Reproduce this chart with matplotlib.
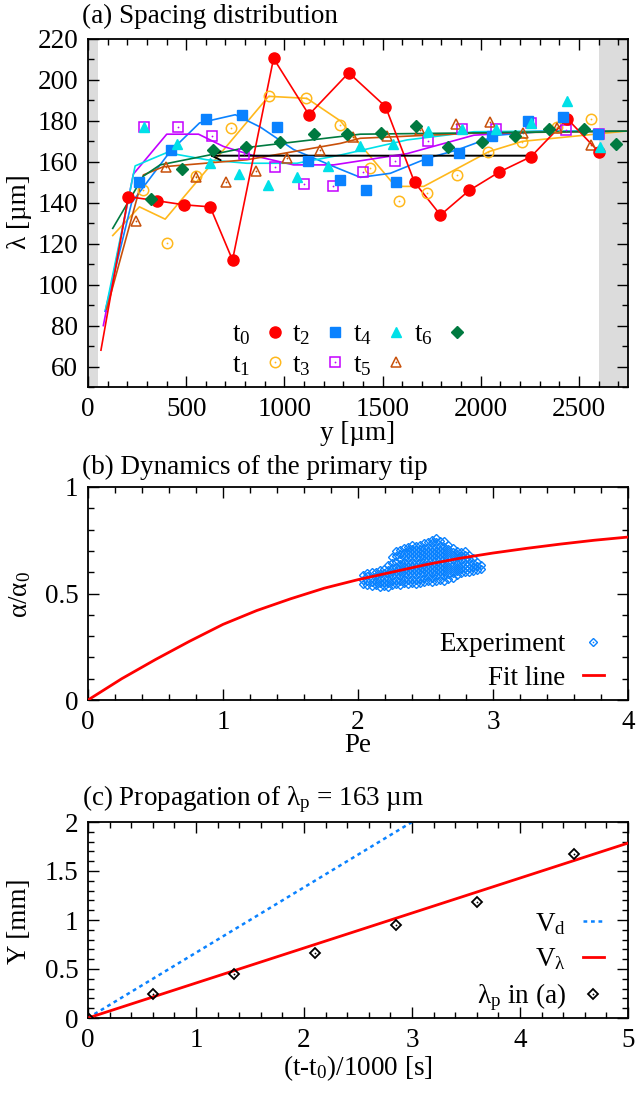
import matplotlib
matplotlib.use('Agg')
import matplotlib.pyplot as plt
from matplotlib.ticker import MultipleLocator
from matplotlib.lines import Line2D
from matplotlib.legend_handler import HandlerTuple

plt.rcParams['font.family'] = ['Liberation Serif', 'DejaVu Serif']
plt.rcParams['mathtext.fontset'] = 'custom'
plt.rcParams['mathtext.rm'] = 'Liberation Serif'
plt.rcParams['mathtext.it'] = 'Liberation Serif:italic'
plt.rcParams['mathtext.default'] = 'regular'
plt.rcParams['font.size'] = 19.5

# ---------------- data: panel (a) ----------------
t0_x = [205, 349, 490, 622, 736, 945, 1125, 1328, 1515, 1663, 1795, 1941, 2094, 2256, 2441, 2600]
t0_y = [143, 141, 139, 138, 112, 210.5, 183, 203.5, 187, 150, 134, 146, 155, 162.5, 181, 165]
t0_line_x = [66] + t0_x
t0_line_y = [68] + t0_y

t1_x = [282, 401, 551, 729, 920, 1110, 1285, 1438, 1583, 1724, 1877, 2038, 2208, 2387, 2564]
t1_y = [146, 120.5, 153, 176.7, 192, 191, 178, 157, 141, 145, 153.6, 164.6, 169.5, 177, 181]
t1_line_x = [126, 262, 393, 920, 1115, 1285, 1566, 1710, 2042, 2212, 2740]
t1_line_y = [124, 138, 132, 192, 191, 180, 148, 148, 165, 170, 175]

t2_x = [262, 422, 602, 784, 962, 1120, 1285, 1416, 1566, 1724, 1889, 2059, 2241, 2420, 2598]
t2_y = [150.3, 165.8, 181, 183, 177, 160.4, 151, 146, 150.3, 161, 164.5, 172.6, 180, 182, 173.4]
t2_line_x = [87, 222, 418, 568, 750, 877, 1047, 1251, 1387, 1540, 1727, 1880, 2084, 2305, 2740]
t2_line_y = [87, 140, 165, 179, 183, 177, 166, 157.7, 152.4, 154.4, 161.7, 165.8, 173, 174.7, 175]

t3_x = [287, 460, 634, 796, 954, 1102, 1248, 1401, 1561, 1731, 1906, 2076, 2254, 2433, 2603]
t3_y = [177, 177, 172.8, 163.7, 157.6, 149, 148, 155, 160.4, 170.3, 176, 176, 179, 175.6, 173.4]
t3_line_x = [78, 231, 401, 563, 690, 843, 1047, 1251, 1625, 1965, 2305, 2740]
t3_line_y = [80, 154, 173.5, 173.5, 167.5, 163, 158.5, 158.5, 164, 173, 175, 175]

t4_x = [287, 452, 619, 767, 916, 1064, 1220, 1387, 1554, 1731, 1906, 2076, 2254, 2441, 2608]
t4_y = [177, 168.7, 159.3, 154, 148.7, 152.8, 158, 167.7, 168.7, 175, 176, 176, 179, 189.7, 167]
t4_line_x = [90, 240, 401, 605, 809, 1064, 1285, 1625, 1965, 2305, 2740]
t4_line_y = [88, 158, 164.5, 161, 159.3, 159.3, 163.3, 170.7, 174.7, 175, 175]

t5_x = [245, 398, 551, 702, 855, 1013, 1179, 1350, 1523, 1693, 1872, 2047, 2217, 2390, 2560]
t5_y = [131, 157.6, 152.8, 150.3, 155.7, 162, 166, 172.3, 172.8, 175.5, 178.3, 179.6, 174.2, 176.7, 168.2]
t5_line_x = [95, 282, 384, 809, 1285, 1387, 1965, 2740]
t5_line_y = [88, 153.6, 157.6, 161, 169, 171.5, 174, 175]

t6_x = [321, 478, 639, 804, 976, 1149, 1319, 1492, 1668, 1833, 2004, 2173, 2347, 2526, 2691]
t6_y = [141.7, 156.3, 165.8, 167, 169.5, 173.6, 173.6, 174, 177.7, 167.4, 169.5, 172.6, 176, 176, 168.6]
t6_line_x = [126, 282, 367, 809, 1387, 2740]
t6_line_y = [127.5, 153, 158.5, 167, 173.5, 175]

arrow_from = (2256, 163)
arrow_to = (605, 163)
gray_left = (0, 50)
gray_right = (2600, 2750)

# ---------------- data: panel (b) ----------------
exp_cols_pe = [2.04, 2.07, 2.10, 2.13, 2.16, 2.19, 2.22, 2.25, 2.28, 2.31, 2.34, 2.37, 2.40, 2.43,
               2.46, 2.49, 2.52, 2.55, 2.58, 2.61, 2.64, 2.67, 2.70, 2.73, 2.76, 2.79, 2.82, 2.85,
               2.88, 2.91]
exp_cols_alpha = [
    [0.545, 0.565, 0.585],
    [0.54, 0.56, 0.58, 0.595],
    [0.535, 0.555, 0.575, 0.60],
    [0.54, 0.56, 0.58, 0.60],
    [0.53, 0.55, 0.57, 0.59, 0.61],
    [0.535, 0.555, 0.575, 0.595, 0.615],
    [0.53, 0.55, 0.57, 0.59, 0.61, 0.635],
    [0.54, 0.56, 0.58, 0.60, 0.62, 0.645, 0.67],
    [0.545, 0.565, 0.585, 0.605, 0.625, 0.65, 0.675, 0.70],
    [0.54, 0.56, 0.58, 0.60, 0.62, 0.64, 0.66, 0.685, 0.705],
    [0.55, 0.57, 0.59, 0.61, 0.63, 0.65, 0.67, 0.69, 0.715],
    [0.545, 0.565, 0.585, 0.605, 0.625, 0.645, 0.665, 0.685, 0.705, 0.72],
    [0.55, 0.57, 0.59, 0.61, 0.63, 0.65, 0.67, 0.69, 0.71, 0.73],
    [0.545, 0.565, 0.585, 0.605, 0.625, 0.645, 0.665, 0.685, 0.705, 0.725],
    [0.55, 0.57, 0.59, 0.61, 0.63, 0.65, 0.67, 0.69, 0.71, 0.73],
    [0.555, 0.575, 0.595, 0.615, 0.635, 0.655, 0.675, 0.695, 0.715, 0.735],
    [0.56, 0.58, 0.60, 0.62, 0.64, 0.66, 0.68, 0.70, 0.72, 0.74],
    [0.555, 0.575, 0.595, 0.615, 0.635, 0.655, 0.675, 0.695, 0.715, 0.735, 0.75],
    [0.56, 0.58, 0.60, 0.62, 0.64, 0.66, 0.68, 0.70, 0.72, 0.74, 0.76],
    [0.565, 0.585, 0.605, 0.625, 0.645, 0.665, 0.685, 0.705, 0.725, 0.745],
    [0.56, 0.58, 0.60, 0.62, 0.64, 0.66, 0.68, 0.70, 0.72, 0.745],
    [0.57, 0.59, 0.61, 0.63, 0.65, 0.67, 0.69, 0.71, 0.73],
    [0.575, 0.595, 0.615, 0.635, 0.655, 0.675, 0.695, 0.715],
    [0.585, 0.605, 0.625, 0.645, 0.665, 0.685, 0.70],
    [0.595, 0.615, 0.635, 0.655, 0.675, 0.695],
    [0.60, 0.62, 0.64, 0.66, 0.68, 0.70],
    [0.60, 0.62, 0.64, 0.66, 0.68],
    [0.605, 0.625, 0.645, 0.665],
    [0.61, 0.63, 0.65],
    [0.615, 0.635],
]
fit_pe = [0, 0.25, 0.5, 0.75, 1.0, 1.25, 1.5, 1.75, 2.0, 2.25, 2.5, 2.75, 3.0, 3.25, 3.5, 3.75, 4.0]
fit_alpha = [0, 0.10, 0.19, 0.275, 0.355, 0.42, 0.475, 0.525, 0.565, 0.60, 0.635, 0.665,
             0.69, 0.712, 0.732, 0.75, 0.765]

# ---------------- data: panel (c) ----------------
lp_t = [0, 0.605, 1.353, 2.10, 2.854, 3.60, 4.50]
lp_Y = [0, 0.24, 0.45, 0.666, 0.951, 1.185, 1.67]
vd_t = [0, 3.0]
vd_Y = [0, 2.0]
vl_t = [0, 5.0]
vl_Y = [0, 1.785]

# ---------------- styles ----------------
C_RED = '#ff0000'
C_ORANGE = '#ffb81c'
C_BLUE = '#0a82ff'
C_PURPLE = '#c300ff'
C_CYAN = '#00e0e8'
C_BROWN = '#c8500a'
C_GREEN = '#007a40'
C_GRAY = '#dcdcdc'

W, H = 639, 1093
fig = plt.figure(figsize=(W / 100, H / 100), dpi=100)

def box(l, t, r, b):
    return [l / W, 1 - b / H, (r - l) / W, (b - t) / H]

axa = fig.add_axes(box(88, 39, 628, 387))
axb = fig.add_axes(box(88, 487, 628, 700))
axc = fig.add_axes(box(88, 822, 628, 1018))

def style_axes(ax):
    for s in ax.spines.values():
        s.set_linewidth(1.3)
    ax.tick_params(which='both', direction='in', top=True, right=True, width=1.0)
    ax.tick_params(which='major', length=8, pad=7)
    ax.tick_params(which='minor', length=4.5)

TUP = {tuple: HandlerTuple(ndivide=1, pad=0)}

# ---------------- panel (a) ----------------
axa.axvspan(*gray_left, color=C_GRAY, lw=0, zorder=0)
axa.axvspan(*gray_right, color=C_GRAY, lw=0, zorder=0)

lw_s = 1.2
axa.plot(t1_line_x, t1_line_y, color=C_ORANGE, lw=lw_s, zorder=2)
axa.plot(t2_line_x, t2_line_y, color=C_BLUE, lw=lw_s, zorder=2)
axa.plot(t3_line_x, t3_line_y, color=C_PURPLE, lw=lw_s, zorder=2)
axa.plot(t4_line_x, t4_line_y, color=C_CYAN, lw=lw_s, zorder=2)
axa.plot(t5_line_x, t5_line_y, color=C_BROWN, lw=lw_s, zorder=2)
axa.plot(t6_line_x, t6_line_y, color=C_GREEN, lw=lw_s, zorder=2)
axa.plot(t0_line_x, t0_line_y, color=C_RED, lw=lw_s, zorder=3)

axa.annotate('', xy=arrow_to, xytext=arrow_from,
             arrowprops=dict(arrowstyle='->', color='black', lw=1.4, mutation_scale=16),
             zorder=3)

def open_dot(ax, x, y, marker, color, ms, mew=1.1, z=4):
    ax.plot(x, y, ls='none', marker=marker, ms=ms, mfc='none', mec=color, mew=mew, zorder=z)
    ax.plot(x, y, ls='none', marker='o', ms=1.3, mfc=color, mec=color, mew=0, zorder=z)

axa.plot(t0_x, t0_y, ls='none', marker='o', ms=8, color=C_RED, zorder=5)
open_dot(axa, t1_x, t1_y, 'o', C_ORANGE, 7.5)
axa.plot(t2_x, t2_y, ls='none', marker='s', ms=7, color=C_BLUE, zorder=5)
open_dot(axa, t3_x, t3_y, 's', C_PURPLE, 7)
axa.plot(t4_x, t4_y, ls='none', marker='^', ms=7.5, color=C_CYAN, zorder=5)
open_dot(axa, t5_x, t5_y, '^', C_BROWN, 7.5)
axa.plot(t6_x, t6_y, ls='none', marker='D', ms=6, color=C_GREEN, zorder=5)

axa.set_xlim(0, 2750)
axa.set_ylim(50, 220)
axa.xaxis.set_major_locator(MultipleLocator(500))
axa.xaxis.set_minor_locator(MultipleLocator(100))
axa.yaxis.set_major_locator(MultipleLocator(20))
axa.yaxis.set_minor_locator(MultipleLocator(10))
style_axes(axa)

def h_fill(marker, color, ms):
    return Line2D([], [], ls='none', marker=marker, ms=ms, color=color)

def h_open(marker, color, ms):
    return (Line2D([], [], ls='none', marker=marker, ms=ms, mfc='none', mec=color, mew=1.1),
            Line2D([], [], ls='none', marker='o', ms=1.3, mfc=color, mec=color, mew=0))

hs = [h_fill('o', C_RED, 8), h_open('o', C_ORANGE, 7.5), h_fill('s', C_BLUE, 7),
      h_open('s', C_PURPLE, 7), h_fill('^', C_CYAN, 7.5), h_open('^', C_BROWN, 7.5),
      h_fill('D', C_GREEN, 6)]
ls_ = ['t$_0$', 't$_1$', 't$_2$', 't$_3$', 't$_4$', 't$_5$', 't$_6$']
axa.legend(hs, ls_, ncol=4, markerfirst=False, frameon=False, loc='lower left',
           bbox_to_anchor=(0.231, -0.028), handlelength=0.9, handletextpad=0.45,
           columnspacing=0.2, labelspacing=0.2, borderpad=0.2, handler_map=TUP)

# ---------------- panel (b) ----------------
exp_pe = []
exp_alpha = []
for p, col in zip(exp_cols_pe, exp_cols_alpha):
    for a in col:
        exp_pe.append(p)
        exp_alpha.append(a)

axb.plot(exp_pe, exp_alpha, ls='none', marker='D', ms=4.5, mfc='none', mec=C_BLUE, mew=1.0, zorder=3)
axb.plot(fit_pe, fit_alpha, color=C_RED, lw=2.0, zorder=4)
axb.set_xlim(0, 4)
axb.set_ylim(0, 1)
axb.xaxis.set_major_locator(MultipleLocator(1))
axb.xaxis.set_minor_locator(MultipleLocator(0.2))
axb.yaxis.set_major_locator(MultipleLocator(0.5))
axb.yaxis.set_minor_locator(MultipleLocator(0.1))
axb.set_yticks([0, 0.5, 1])
axb.set_yticklabels(['0', '0.5', '1'])
style_axes(axb)
hb = [(Line2D([], [], ls='none', marker='D', ms=4.5, mfc='none', mec=C_BLUE, mew=1.0),
       Line2D([], [], ls='none', marker='o', ms=1.2, mfc=C_BLUE, mec=C_BLUE, mew=0)),
      Line2D([], [], color=C_RED, lw=2.0)]
axb.legend(hb, ['Experiment', 'Fit line'], markerfirst=False, frameon=False, loc='lower right',
           bbox_to_anchor=(1.0, -0.07), handlelength=0.75, handletextpad=0.65, labelspacing=0.3,
           handler_map=TUP)

# ---------------- panel (c) ----------------
axc.plot(vd_t, vd_Y, color=C_BLUE, lw=1.8, ls=(0, (1.5, 1.5)), zorder=2)
axc.plot(vl_t, vl_Y, color=C_RED, lw=2.0, zorder=3)
open_dot(axc, lp_t, lp_Y, 'D', 'black', 5.5, mew=1.3, z=5)
axc.set_xlim(0, 5)
axc.set_ylim(0, 2)
axc.xaxis.set_major_locator(MultipleLocator(1))
axc.xaxis.set_minor_locator(MultipleLocator(0.2))
axc.yaxis.set_major_locator(MultipleLocator(0.5))
axc.yaxis.set_minor_locator(MultipleLocator(0.1))
axc.set_yticks([0, 0.5, 1, 1.5, 2])
axc.set_yticklabels(['0', '0.5', '1', '1.5', '2'])
style_axes(axc)
hc = [Line2D([], [], color=C_BLUE, lw=1.8, ls=(0, (1.5, 1.5))),
      Line2D([], [], color=C_RED, lw=2.0),
      (Line2D([], [], ls='none', marker='D', ms=5.5, mfc='none', mec='black', mew=1.3),
       Line2D([], [], ls='none', marker='o', ms=1.3, mfc='black', mec='black', mew=0))]
axc.legend(hc, ['V$_d$', 'V$_λ$', 'λ$_p$ in (a)'], markerfirst=False, frameon=False,
           loc='lower right', bbox_to_anchor=(1.0, -0.1), handlelength=0.75, handletextpad=0.65,
           labelspacing=0.35, handler_map=TUP)

# ---------------- texts ----------------
def ftext(x, y, s, **kw):
    fig.text(x / W, 1 - y / H, s, **kw)

ftext(82, 16, '(a) Spacing distribution', ha='left', va='center')
ftext(82, 467, '(b) Dynamics of the primary tip', ha='left', va='center')
ftext(82, 799, '(c) Propagation of λ$_p$ = 163 µm', ha='left', va='center')

ftext(358, 433, 'y [µm]', ha='center', va='center')
ftext(358, 745, 'Pe', ha='center', va='center')
ftext(358, 1068, '(t-t$_0$)/1000 [s]', ha='center', va='center')

ftext(20, 212, 'λ [µm]', ha='center', va='center', rotation=90)
ftext(20, 595, 'α/α$_0$', ha='center', va='center', rotation=90)
ftext(20, 921, 'Y [mm]', ha='center', va='center', rotation=90)

fig.savefig('out.png', dpi=100)
